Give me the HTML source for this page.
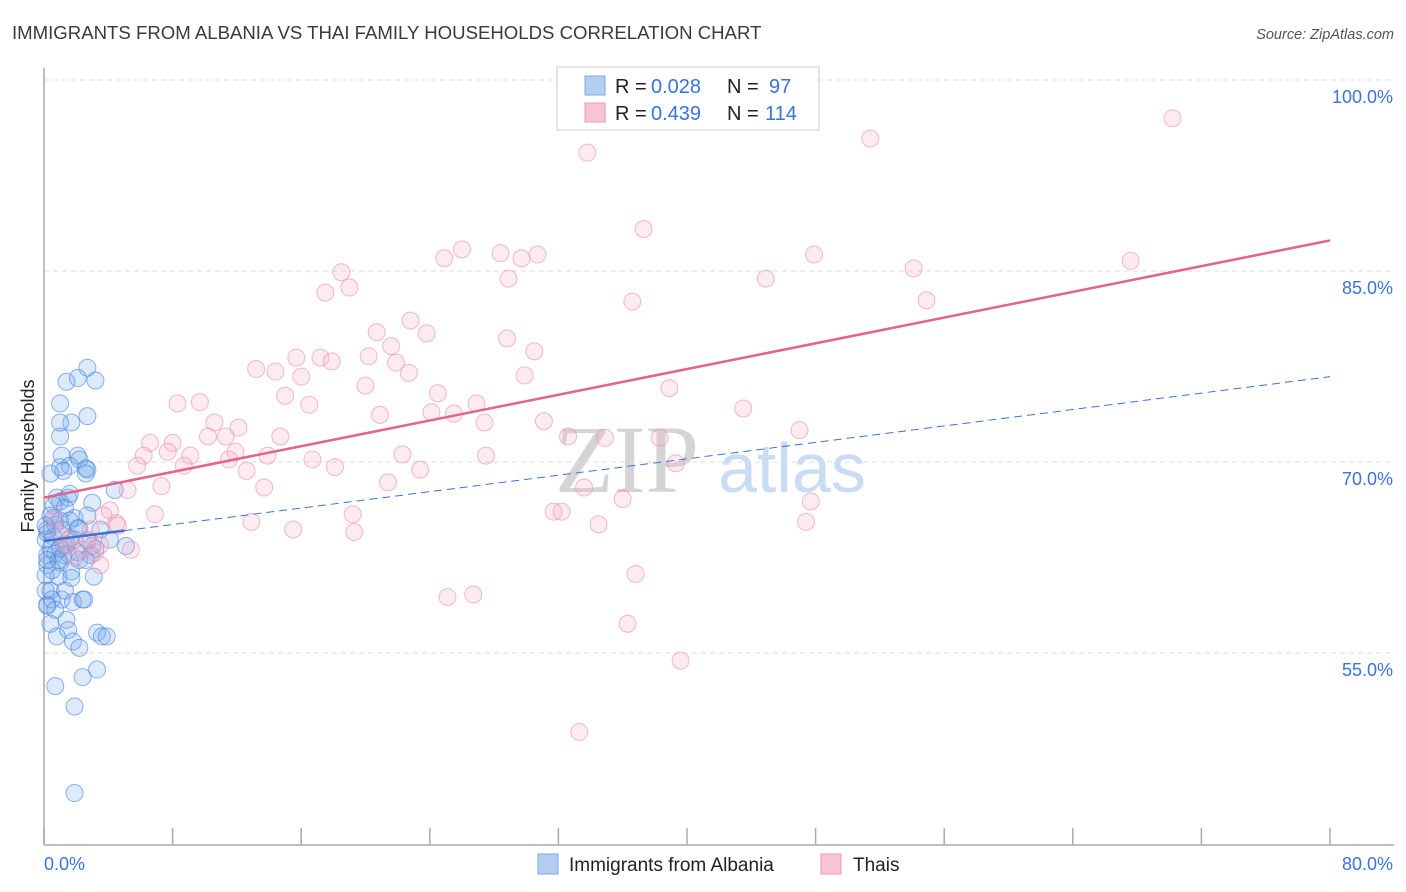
<!DOCTYPE html>
<html><head><meta charset="utf-8"><style>
body{margin:0;background:#fff;font-family:"Liberation Sans",sans-serif;}
svg{display:block}
</style></head><body>
<svg id="chart" width="1406" height="892">
<text x="12" y="39" font-size="18.6" fill="#3a3a3a">IMMIGRANTS FROM ALBANIA VS THAI FAMILY HOUSEHOLDS CORRELATION CHART</text>
<text x="1394" y="39" font-size="14.5" font-style="italic" fill="#555" text-anchor="end">Source: ZipAtlas.com</text>
<text transform="translate(34,456) rotate(-90)" font-size="18" fill="#222" text-anchor="middle">Family Households</text>
<g>
<text x="555" y="492" font-family="Liberation Serif,serif" font-size="96" fill="#d4d4d4">ZIP</text>
<text x="718" y="492" font-size="70" fill="#c9dcf3">atlas</text>
</g>
<g id="grid"></g>
<g id="axes"></g>
<g id="pts"></g>
<g id="trend"></g>
<g>
<rect x="557" y="67" width="262" height="63" fill="#fff" stroke="#ccc"/>
<rect x="585" y="76" width="20" height="19" fill="#b3cdf3" stroke="#7fa7e3"/>
<rect x="585" y="103" width="20" height="19" fill="#f8c3d2" stroke="#ee9ab2"/>
<g font-size="20" fill="#222">
<text x="615" y="93">R =</text>
<text x="651" y="93" fill="#3b73d8">0.028</text>
<text x="727" y="93">N =</text>
<text x="769" y="93" fill="#3b73d8">97</text>
<text x="615" y="120">R =</text>
<text x="651" y="120" fill="#3b73d8">0.439</text>
<text x="727" y="120">N =</text>
<text x="765" y="120" fill="#3b73d8">114</text>
</g>
</g>
<g>
<rect x="538" y="854" width="20" height="20" fill="#b3cdf3" stroke="#7fa7e3"/>
<text x="569" y="871" font-size="19" fill="#222">Immigrants from Albania</text>
<rect x="821" y="854" width="20" height="20" fill="#f8c3d2" stroke="#ee9ab2"/>
<text x="853" y="871" font-size="19" fill="#222">Thais</text>
</g>
</svg>
<script>
const yTicks=[55,70,85,100];
const yTickLabels=["55.0%","70.0%","85.0%","100.0%"];
const xTickLabels=["0.0%","80.0%"];
const thaiX=[70.2,51.4,33.8,37.3,26.0,28.4,30.7,29.7,24.9,18.5,28.9,47.9,67.6,54.1,44.9,19.0,17.5,36.6,54.9,22.8,20.7,23.8,28.8,21.6,30.5,15.7,17.2,20.2,17.9,21.9,13.2,14.4,16.0,22.7,29.9,20.0,38.9,24.5,15.0,8.3,9.7,16.5,26.9,25.5,20.9,24.1,27.4,43.5,31.1,10.6,12.1,6.6,8.0,10.2,11.3,14.7,47.0,32.6,34.9,38.3,6.2,7.7,9.1,11.9,13.9,11.5,16.7,27.5,22.3,5.8,8.7,12.6,18.1,23.4,39.3,21.4,7.3,13.7,33.6,36.0,47.7,6.9,19.2,31.7,32.2,4.1,3.7,12.9,4.5,15.5,34.5,47.4,19.3,5.2,5.4,36.8,26.7,25.1,36.3,39.6,33.3,1.3,1.6,2.4,3.2,3.5,2.7,1.0,1.9,2.9,0.7,4.6,3.5];
const thaiY=[97.0,95.4,94.3,88.3,86.7,86.4,86.3,86.0,86.0,84.9,84.4,86.3,85.8,85.2,84.4,83.7,83.3,82.6,82.7,81.1,80.2,80.1,79.7,79.1,78.7,78.2,78.2,78.3,77.9,77.8,77.3,77.1,76.7,77.0,76.8,76.0,75.8,75.4,75.2,74.6,74.7,74.5,74.6,73.8,73.7,73.9,73.1,74.2,73.2,73.1,72.7,71.5,71.5,72.0,72.0,72.0,72.5,72.0,71.9,71.9,70.5,70.8,70.5,70.8,70.5,70.2,70.2,70.5,70.6,69.7,69.7,69.3,69.6,69.4,69.9,68.4,68.1,68.0,68.0,67.1,66.9,65.9,65.9,66.1,66.1,66.2,65.8,65.3,65.2,64.7,65.1,65.3,64.5,67.8,63.1,61.2,59.6,59.4,57.3,54.4,48.8,63.5,63.9,63.1,62.9,61.9,63.9,64.3,62.5,64.7,65.5,65.0,63.5];
const albX=[2.7,1.4,3.2,2.1,1.0,1.7,2.7,1.0,1.0,2.1,2.2,1.1,1.0,1.6,2.7,2.6,2.6,1.2,0.4,0.8,1.5,1.0,3.0,4.4,1.6,0.6,1.3,0.6,1.9,1.0,2.2,0.2,0.6,1.6,1.2,2.7,3.2,0.4,0.2,0.7,1.5,2.1,3.0,0.2,1.0,1.7,0.9,1.7,3.1,5.1,0.4,0.2,1.1,0.2,1.8,2.4,2.5,1.4,0.4,1.5,0.8,1.8,3.3,3.6,3.9,2.2,3.3,2.4,0.7,1.9,1.9,0.5,0.1,0.2,0.7,1.1,1.4,1.9,0.9,1.2,2.2,0.1,0.5,2.9,1.6,0.4,0.1,1.0,2.6,0.1,0.7,1.3,2.1,2.7,3.5,4.1,0.2];
const albY=[77.4,76.3,76.4,76.6,74.6,73.1,73.6,72.0,73.1,70.5,70.2,70.5,69.6,69.7,69.4,69.5,69.1,69.3,69.1,67.2,67.2,66.9,66.8,67.8,67.5,66.6,66.4,65.6,65.6,65.4,64.8,64.4,64.1,64.0,63.5,63.8,63.2,63.2,62.7,62.8,62.8,62.9,63.4,61.9,62.1,61.4,61.0,60.9,61.0,63.4,59.9,58.8,59.2,58.7,59.0,59.2,59.2,57.6,57.3,56.8,56.3,55.9,56.6,56.3,56.3,55.4,53.7,53.1,52.4,50.8,44.0,59.2,63.9,64.7,65.1,64.7,63.5,63.9,62.3,62.7,62.3,61.1,61.5,62.7,65.4,65.8,65.0,63.2,62.3,59.9,58.4,59.9,64.8,65.8,64.7,63.9,62.3];
const thaiTrend=[67.2,87.4];
const albTrend=[63.8,76.7];

const NS="http://www.w3.org/2000/svg";
const sx=v=>44+v*16.075;
const sy=v=>80+(100-v)*12.733;
function mk(tag,attrs,parent){const e=document.createElementNS(NS,tag);for(const k in attrs)e.setAttribute(k,attrs[k]);parent.appendChild(e);return e;}
const grid=document.getElementById('grid'),axes=document.getElementById('axes'),pts=document.getElementById('pts'),trend=document.getElementById('trend');
yTicks.forEach((t,i)=>{
  const l=mk('line',{x1:44,x2:1394,y1:sy(t),y2:sy(t),stroke:'#ddd','stroke-dasharray':'5,4'},grid);
  
  
  const tx=mk('text',{x:1393,y:sy(t)+23,'font-size':18,fill:'#3b73d8','text-anchor':'end'},axes);
  tx.textContent=yTickLabels[i];
  
  
});
const ya=mk('line',{x1:44,x2:44,y1:68,y2:845,stroke:'#aaa','stroke-width':1.5},axes);


const xa=mk('line',{x1:44,x2:1394,y1:845,y2:845,stroke:'#aaa','stroke-width':1.5},axes);


for(let i=0;i<=10;i++){
  const tk=mk('line',{x1:sx(i*8),x2:sx(i*8),y1:828,y2:845,stroke:'#aaa','stroke-width':1.5},axes);
  
  
}
[[0,'start',44],[80,'end',1393]].forEach((a,i)=>{
  const t=mk('text',{x:a[2],y:870,'font-size':18,fill:'#3b73d8','text-anchor':a[1]},axes);
  t.textContent=xTickLabels[i];
  
  
});
albX.forEach((x,i)=>{
  const c=mk('circle',{cx:sx(x),cy:sy(albY[i]),r:8.5,fill:'rgba(120,170,235,0.25)',stroke:'rgba(70,130,220,0.6)','stroke-width':1},pts);
  
  
});
thaiX.forEach((x,i)=>{
  const c=mk('circle',{cx:sx(x),cy:sy(thaiY[i]),r:8.5,fill:'rgba(248,175,198,0.25)',stroke:'rgba(235,140,170,0.6)','stroke-width':1},pts);
  
  
});
const at=v=>albTrend[0]+(albTrend[1]-albTrend[0])*v/80;
const a1=mk('line',{x1:sx(0),y1:sy(at(0)),x2:sx(5),y2:sy(at(5)),stroke:'#3b73d8','stroke-width':2.5},trend);


const a2=mk('line',{x1:sx(5),y1:sy(at(5)),x2:sx(80),y2:sy(at(80)),stroke:'#3b73d8','stroke-width':1,'stroke-dasharray':'8,5'},trend);


const p1=mk('line',{x1:sx(0),y1:sy(thaiTrend[0]),x2:sx(80),y2:sy(thaiTrend[1]),stroke:'#e4628f','stroke-width':2.5},trend);


</script>
</body></html>
